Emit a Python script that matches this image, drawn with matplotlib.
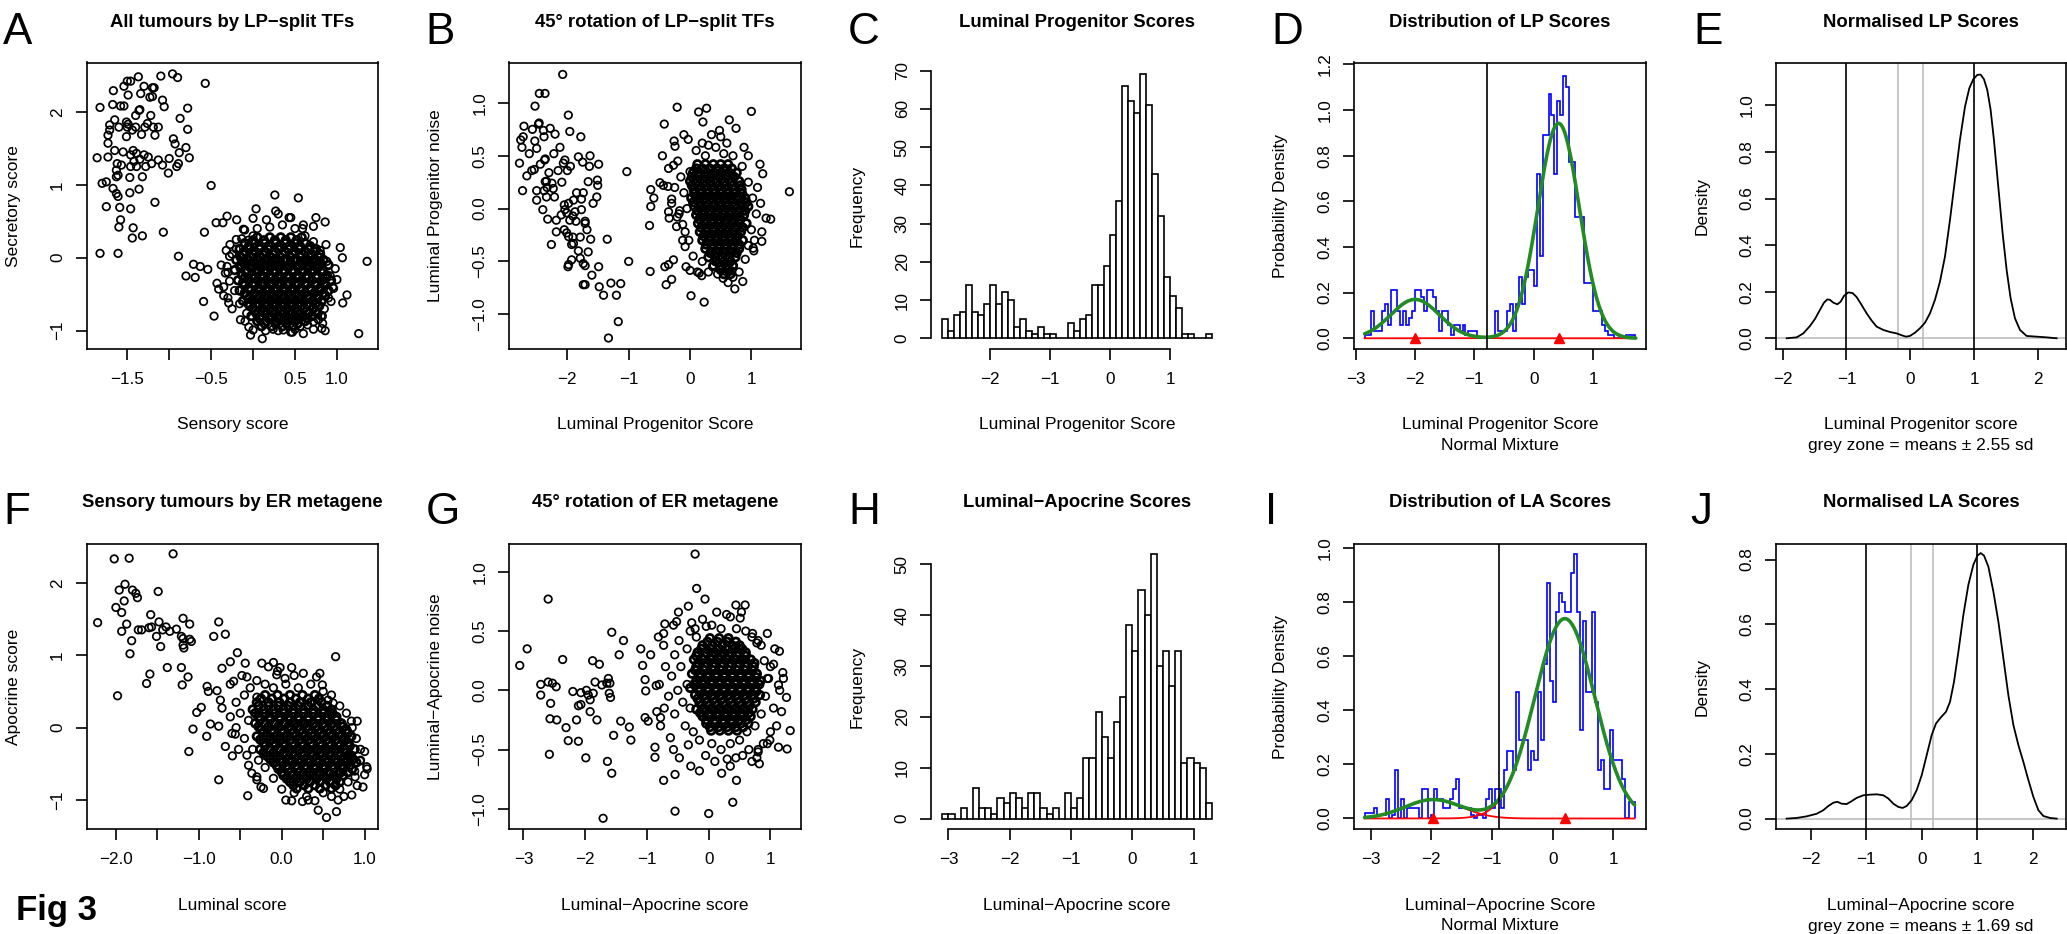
import numpy as np
import matplotlib
matplotlib.use("Agg")
import matplotlib.pyplot as plt

plt.rcParams['font.family'] = ['Liberation Sans', 'DejaVu Sans']
plt.rcParams['axes.unicode_minus'] = True

W, H = 2067, 934

# ---------------- DATA ----------------
# Panel A: Sensory score (x) vs Secretory score (y)
A_points = [
(-1.368,2.48),(-1.50,2.42),(-1.46,2.42),(-1.54,2.35),(-1.49,2.23),(-1.30,2.35),(-1.20,2.33),(-1.18,2.33),(-1.34,2.25),(-1.23,2.20),
(-1.20,2.21),(-1.10,2.49),(-0.96,2.52),(-0.90,2.47),(-1.08,2.16),(-1.06,2.07),(-0.57,2.39),(-0.78,2.05),(-1.825,2.06),(-1.666,2.29),
(-1.674,2.10),(-1.58,2.08),(-1.54,2.08),(-1.36,2.02),(-1.40,1.95),(-1.35,2.03),(-1.22,1.95),(-0.87,1.91),(-0.78,1.76),(-1.65,1.89),
(-1.71,1.82),(-1.73,1.68),(-1.71,1.75),(-1.60,1.79),(-1.51,1.86),(-1.49,1.83),(-1.50,1.79),(-1.40,1.79),(-1.33,1.69),(-1.29,1.79),
(-1.19,1.79),(-1.13,1.79),(-1.51,1.66),(-1.17,1.68),(-0.95,1.63),(-0.93,1.56),(-0.80,1.51),(-0.88,1.44),(-0.76,1.37),(-1.73,1.57),
(-1.65,1.47),(-1.86,1.37),(-1.73,1.38),(-1.43,1.47),(-1.46,1.41),(-1.39,1.43),(-1.30,1.41),(-1.35,1.35),(-1.46,1.25),(-1.39,1.25),
(-1.28,1.25),(-1.62,1.29),(-1.63,1.20),(-1.57,1.27),(-1.61,1.13),(-1.63,1.11),(-1.21,1.29),(-1.13,1.34),(-1.08,1.27),(-1.00,1.36),
(-1.01,1.16),(-0.91,1.25),(-0.89,1.29),(-1.47,1.10),(-1.32,1.11),(-1.80,1.02),(-1.75,1.04),(-1.67,0.95),(-1.63,0.88),(-1.61,0.84),
(-1.47,0.89),(-1.36,0.94),(-1.75,0.70),(-1.59,0.69),(-1.46,0.67),(-1.17,0.76),(-1.58,0.52),(-1.60,0.42),(-1.43,0.41),(-1.44,0.27),
(-1.32,0.30),(-1.07,0.35),(-1.825,0.06),(-1.61,0.06),(-0.50,0.99),(-1.25,1.38),(-1.42,1.32),(-1.55,1.45),(-1.44,1.75),(-1.26,1.84),
(-0.89,0.02),(-0.71,-0.09),(-0.80,-0.25),(-0.69,-0.27),(-0.63,-0.12),(-0.54,-0.16),(-0.58,0.35),(-0.59,-0.60),(-0.465,-0.80),(-0.44,0.48),
(-0.31,0.57),(-0.195,0.52),(-0.36,0.48),(-0.115,0.39),(-0.43,-0.35),(-0.41,-0.43),(-0.35,-0.52),(-0.29,-0.62),(-0.33,-0.21),(-0.31,-0.12),
(-0.28,0.02),(-0.275,0.18),(0.036,0.67),(0.26,0.86),(0.54,0.82),(0.0,0.54),(0.16,0.52),(0.27,0.64),(0.43,0.55),(0.75,0.55),
(0.86,0.49),(0.72,0.43),(0.59,0.40),(0.87,0.18),(1.04,0.14),(1.065,0.0),(1.36,-0.05),(0.96,-0.42),(1.12,-0.51),(1.07,-0.62),
(0.93,-0.60),(1.26,-1.04),(0.86,-1.00),(0.82,-0.97),(0.60,-1.04),(0.45,-1.02),(0.47,-1.02),(0.24,-0.98),(0.11,-1.11),(-0.03,-1.06),
(0.0,-0.99),(-0.095,-0.87),(-0.16,-0.63),(-0.076,-0.76),(0.72,-0.88),(0.56,-0.94),(0.36,-0.99),(-0.135,0.26),(-0.056,0.24),(0.0,0.10),
(-0.3,-0.2),(-0.25,0.05),(-0.2,0.25),(-0.1,0.38),(0.05,0.4),(0.2,0.42),(0.35,0.45),(0.5,0.4),(0.62,0.3),(0.72,0.22),
(0.8,0.1),(0.88,-0.05),(0.92,-0.25),(0.95,-0.4),(0.9,-0.55),(0.85,-0.7),(0.78,-0.85),(0.65,-0.92),(0.5,-0.98),(0.3,-1.0),
(0.15,-1.0),(-0.05,-0.95),(-0.15,-0.85),(-0.25,-0.7),(-0.3,-0.55),(-0.35,-0.4),(-0.22,-0.45),(-0.28,-0.32),(0.0,0.3),(0.45,0.55),
(0.3,0.6),(0.6,0.45),(-0.32,0.1),(-0.38,-0.1),(0.98,-0.15),(1.0,-0.3),(0.83,-0.9),(0.72,-0.98),(-0.2,0.12),
]
A_core_rows = [
(0.28, [0.05, 0.2, 0.33, 0.45, 0.58]),
(0.24, [0.0, 0.13, 0.26, 0.39, 0.52]),
(0.20, [-0.1, 0.02, 0.14, 0.27, 0.38, 0.5, 0.62]),
(0.16, [-0.05, 0.08, 0.2, 0.32, 0.44, 0.56, 0.68]),
(0.12, [-0.16, -0.04, 0.08, 0.18, 0.3, 0.42, 0.55, 0.66, 0.75]),
(0.085, [-0.1, 0.02, 0.14, 0.26, 0.38, 0.5, 0.62, 0.74]),
(0.05, [-0.12, 0.0, 0.12, 0.24, 0.35, 0.47, 0.58, 0.7, 0.8]),
(0.01, [-0.15, -0.03, 0.09, 0.21, 0.32, 0.44, 0.56, 0.67, 0.78]),
(-0.03, [-0.2, -0.07, 0.05, 0.16, 0.27, 0.38, 0.5, 0.62, 0.73, 0.84]),
(-0.065, [-0.12, 0.0, 0.11, 0.22, 0.33, 0.45, 0.57, 0.68, 0.8]),
(-0.10, [-0.15, -0.02, 0.1, 0.21, 0.32, 0.43, 0.55, 0.66, 0.78, 0.9]),
(-0.135, [-0.15, -0.03, 0.09, 0.2, 0.31, 0.42, 0.54, 0.66, 0.77]),
(-0.17, [-0.22, -0.08, 0.04, 0.15, 0.26, 0.37, 0.48, 0.6, 0.72, 0.83]),
(-0.205, [-0.08, 0.05, 0.16, 0.27, 0.37, 0.48, 0.59, 0.7, 0.82]),
(-0.24, [-0.13, 0.0, 0.1, 0.2, 0.31, 0.42, 0.53, 0.64, 0.76, 0.88]),
(-0.275, [-0.1, 0.02, 0.12, 0.22, 0.32, 0.42, 0.53, 0.64, 0.76, 0.87]),
(-0.31, [-0.18, -0.05, 0.06, 0.16, 0.26, 0.36, 0.47, 0.58, 0.7, 0.82, 0.93]),
(-0.345, [-0.12, 0.0, 0.11, 0.21, 0.31, 0.41, 0.52, 0.63, 0.74, 0.85]),
(-0.38, [-0.1, 0.02, 0.12, 0.22, 0.32, 0.42, 0.52, 0.63, 0.75, 0.86]),
(-0.415, [-0.05, 0.07, 0.17, 0.27, 0.37, 0.47, 0.57, 0.68, 0.8]),
(-0.45, [-0.16, -0.03, 0.08, 0.18, 0.28, 0.38, 0.48, 0.58, 0.69, 0.8, 0.9]),
(-0.485, [-0.1, 0.02, 0.12, 0.22, 0.32, 0.42, 0.52, 0.62, 0.73, 0.84]),
(-0.52, [-0.08, 0.04, 0.14, 0.24, 0.34, 0.44, 0.54, 0.65, 0.76, 0.86]),
(-0.555, [-0.05, 0.06, 0.16, 0.26, 0.36, 0.46, 0.56, 0.66, 0.77]),
(-0.59, [-0.12, 0.0, 0.1, 0.2, 0.3, 0.4, 0.5, 0.6, 0.71, 0.82]),
(-0.625, [-0.06, 0.05, 0.15, 0.25, 0.35, 0.45, 0.55, 0.65, 0.75]),
(-0.66, [-0.04, 0.07, 0.17, 0.27, 0.37, 0.47, 0.57, 0.68, 0.79]),
(-0.695, [0.0, 0.11, 0.21, 0.31, 0.41, 0.51, 0.61, 0.72]),
(-0.73, [0.02, 0.13, 0.23, 0.33, 0.43, 0.53, 0.64, 0.75]),
(-0.765, [0.04, 0.15, 0.25, 0.35, 0.45, 0.55, 0.66, 0.77]),
(-0.80, [-0.02, 0.09, 0.2, 0.3, 0.4, 0.5, 0.6, 0.7, 0.82]),
(-0.835, [0.08, 0.19, 0.3, 0.42, 0.54, 0.65]),
(-0.87, [0.05, 0.16, 0.27, 0.38, 0.5, 0.62]),
(-0.905, [0.14, 0.27, 0.4, 0.53]),
(-0.94, [0.1, 0.22, 0.35, 0.48]),
]

# Panel B: Luminal Progenitor Score (x) vs noise (y)
B_points = [
(-2.076,1.27),(-2.457,1.09),(-2.364,1.09),(-2.527,0.97),(-1.984,0.885),(-2.707,0.78),(-2.57,0.75),(-2.47,0.80),(-2.46,0.81),(-2.28,0.76),
(-2.20,0.705),(-2.39,0.74),(-2.38,0.68),(-1.96,0.73),(-1.78,0.68),(-2.76,0.65),(-2.72,0.68),(-2.74,0.58),(-2.53,0.64),(-2.50,0.57),
(-2.62,0.52),(-2.78,0.43),(-2.66,0.31),(-2.58,0.36),(-2.54,0.37),(-2.36,0.47),(-2.37,0.46),(-2.22,0.52),(-2.065,0.43),(-2.04,0.46),
(-2.15,0.36),(-2.0,0.36),(-2.09,0.25),(-1.82,0.49),(-1.75,0.44),(-1.63,0.50),(-1.64,0.40),(-1.49,0.42),(-1.66,0.255),(-1.51,0.27),
(-1.505,0.22),(-1.52,0.11),(-1.74,0.15),(-1.77,0.09),(-2.73,0.17),(-2.50,0.17),(-2.36,0.255),(-2.34,0.26),(-2.33,0.20),(-2.38,0.17),
(-2.34,0.11),(-2.50,0.08),(-2.40,-0.01),(-2.21,0.11),(-2.25,0.24),(-2.23,0.19),(-2.32,-0.10),(-2.18,-0.11),(-2.26,-0.34),(-2.18,-0.22),
(-2.05,0.035),(-2.04,-0.01),(-2.01,-0.04),(-1.98,0.05),(-1.90,0.08),(-1.96,-0.11),(-1.91,-0.07),(-1.875,-0.03),(-1.86,-0.12),(-1.71,-0.12),
(-1.71,-0.14),(-1.77,-0.01),(-2.05,-0.20),(-2.01,-0.23),(-1.98,-0.265),(-1.91,-0.27),(-1.93,-0.34),(-1.90,-0.33),(-1.79,-0.27),(-1.62,-0.29),
(-1.66,-0.41),(-1.35,-0.29),(-1.98,-0.53),(-1.99,-0.55),(-1.93,-0.485),(-1.79,-0.47),(-1.74,-0.52),(-1.71,-0.54),(-1.60,-0.63),(-1.49,-0.55),
(-1.74,-0.72),(-1.71,-0.72),(-1.48,-0.74),(-1.41,-0.82),(-1.29,-0.705),(-1.13,-0.71),(-1.20,-0.82),(-1.17,-1.07),(-1.33,-1.225),(-1.03,0.35),
(-1.0,-0.50),(-2.44,0.42),(-2.30,0.34),(-2.12,0.58),(-1.95,0.40),(-1.85,0.15),(-2.10,-0.06),(-1.82,-0.40),(-1.58,0.05),(-1.68,-0.20),
(-0.64,0.18),(-0.64,0.02),(-0.66,-0.16),(-0.65,-0.595),(-0.59,0.10),(-0.49,0.245),(-0.435,0.22),(-0.36,0.21),(-0.42,0.80),(-0.45,0.50),
(-0.26,0.64),(-0.245,0.59),(-0.21,0.96),(-0.35,0.38),(-0.27,0.41),(-0.30,0.09),(-0.35,-0.03),(-0.34,-0.09),(-0.22,-0.17),(-0.21,-0.08),
(-0.17,-0.02),(-0.41,-0.55),(-0.35,-0.53),(-0.27,-0.485),(-0.39,-0.72),(-0.30,-0.67),(-0.12,-0.30),(-0.08,-0.36),(-0.065,-0.55),(0.0,-0.585),
(0.016,-0.825),(0.23,-0.885),(0.14,0.915),(0.27,0.95),(0.21,0.82),(-0.10,0.70),(-0.03,0.655),(0.48,0.74),(0.64,0.84),(0.75,0.76),
(1.0,0.92),(1.14,0.42),(1.185,0.33),(1.62,0.16),(1.24,-0.09),(1.315,-0.10),(1.17,-0.22),(1.17,-0.31),(1.03,-0.375),(1.04,-0.40),
(0.86,-0.69),(0.73,-0.76),(0.54,-0.66),(0.68,-0.59),(0.37,-0.55),(0.46,-0.51),(0.15,-0.61),(0.19,-0.635),
(-0.15,0.3),(-0.1,0.15),(-0.05,0.0),(-0.12,-0.15),(-0.02,-0.3),(0.05,-0.45),(0.1,0.55),(0.2,0.62),(0.3,0.6),(0.42,0.58),
(0.55,0.52),(0.7,0.5),(0.85,0.4),(0.95,0.25),(1.02,0.1),(1.08,-0.05),(1.0,-0.2),(0.95,-0.35),(0.9,-0.48),(0.2,-0.5),
(0.12,-0.6),(0.3,-0.6),(0.45,-0.62),(0.8,-0.6),(-0.2,0.45),(-0.25,0.2),(-0.3,0.05),(-0.18,-0.05),(-0.08,-0.22),(0.0,0.35),
(1.1,0.2),(1.15,0.05),(1.05,-0.3),(0.62,-0.7),(0.7,-0.65),(0.35,0.7),(0.5,0.68),(0.25,0.5),(0.6,0.62),(0.95,0.5),(0.88,0.58),
]
B_core_rows = [
(0.42, [0.12, 0.25, 0.38, 0.5, 0.62]),
(0.38, [0.1, 0.2, 0.32, 0.44, 0.56, 0.68]),
(0.34, [0.05, 0.16, 0.28, 0.4, 0.52, 0.64, 0.76]),
(0.30, [0.03, 0.14, 0.25, 0.36, 0.48, 0.6, 0.72]),
(0.26, [0.0, 0.11, 0.22, 0.33, 0.44, 0.56, 0.68, 0.8]),
(0.22, [0.03, 0.14, 0.25, 0.36, 0.47, 0.58, 0.7, 0.82]),
(0.18, [0.06, 0.17, 0.28, 0.39, 0.5, 0.61, 0.72, 0.84]),
(0.14, [0.07, 0.18, 0.29, 0.4, 0.51, 0.62, 0.73, 0.85]),
(0.10, [0.02, 0.12, 0.23, 0.34, 0.45, 0.56, 0.67, 0.78, 0.9]),
(0.06, [0.05, 0.15, 0.26, 0.37, 0.48, 0.59, 0.7, 0.82, 0.92]),
(0.02, [0.07, 0.18, 0.29, 0.4, 0.51, 0.62, 0.73, 0.85, 0.95]),
(-0.02, [0.12, 0.23, 0.34, 0.45, 0.56, 0.67, 0.79, 0.9]),
(-0.06, [0.1, 0.21, 0.32, 0.43, 0.54, 0.65, 0.76, 0.88]),
(-0.10, [0.15, 0.26, 0.37, 0.48, 0.6, 0.71, 0.82]),
(-0.14, [0.13, 0.24, 0.35, 0.46, 0.57, 0.68, 0.8, 0.92]),
(-0.18, [0.18, 0.29, 0.4, 0.52, 0.63, 0.74, 0.86]),
(-0.22, [0.16, 0.27, 0.38, 0.49, 0.6, 0.71, 0.83]),
(-0.26, [0.22, 0.33, 0.44, 0.55, 0.66, 0.78]),
(-0.30, [0.2, 0.31, 0.42, 0.53, 0.64, 0.75, 0.86]),
(-0.34, [0.26, 0.37, 0.48, 0.59, 0.7, 0.8]),
(-0.38, [0.25, 0.36, 0.47, 0.58, 0.69, 0.8]),
(-0.42, [0.33, 0.44, 0.55, 0.66, 0.76]),
(-0.46, [0.3, 0.41, 0.52, 0.63, 0.74]),
(-0.50, [0.42, 0.55, 0.66]),
(-0.54, [0.38, 0.5, 0.6, 0.7]),
(-0.58, [0.5, 0.62]),
(-0.62, [0.55, 0.66]),
]

# Panel C: histogram of Luminal Progenitor Score (bins of 0.1 from -2.8)
C_start, C_width = -2.8, 0.1
C_counts = [5,2,6,7,14,7,6,9,14,9,12,10,3,5,2,1,3,1,1,0,0,4,2,5,6,14,14,19,27,36,
            66,62,59,69,61,43,32,16,11,8,1,1,0,0,1]

# Panel D: density histogram (bins of 0.05 from -2.85) and normal mixture
D_start, D_width = -2.85, 0.05
D_density = [0.015,0.015,0.12,0.03,0.03,0.03,0.12,0.15,0.06,0.21,0.21,0.12,0.06,0.12,0.06,0.09,0.12,0.21,0.21,0.18,
             0.12,0.21,0.21,0.18,0.12,0.03,0.12,0.12,0.06,0.015,0.06,0.06,0.03,0.06,0.015,0.03,0.03,0.03,
             0,0,0,0,0,0,
             0.12,0.03,0.03,0.03,0.12,0.15,0.03,0.15,0.27,0.15,0.27,0.30,0.30,0.23,0.72,0.36,0.89,0.89,1.07,0.98,
             0.72,1.04,0.98,1.15,1.10,0.77,0.77,0.53,0.53,0.53,0.24,0.24,0.24,0.12,0.12,0.12,0.06,0.03,0.015,0.015,
             0,0,0,0,0.015,0.015,0.015]
D_weights = [0.174, 0.826]
D_means = [-2.0, 0.42]
D_sds = [0.408, 0.35]
D_range = [-2.85, 1.72]
D_cut = -0.79

# Panel E: normalised LP score density
E_x = [-1.935,-1.779,-1.675,-1.570,-1.492,-1.414,-1.351,-1.299,-1.257,-1.205,-1.142,-1.090,-1.038,-0.970,-0.902,-0.840,
       -0.762,-0.683,-0.605,-0.527,-0.423,-0.318,-0.214,-0.136,-0.068,-0.005,0.073,0.151,0.230,0.308,0.386,0.464,0.543,
       0.621,0.699,0.777,0.856,0.923,0.986,1.049,1.101,1.153,1.205,1.257,1.309,1.377,1.445,1.508,1.570,1.638,1.716,1.821,
       1.977,2.134,2.290]
E_y = [0.000,0.004,0.021,0.053,0.083,0.122,0.153,0.167,0.165,0.153,0.146,0.157,0.182,0.197,0.194,0.177,
       0.143,0.107,0.076,0.050,0.036,0.027,0.021,0.013,0.007,0.010,0.024,0.043,0.067,0.107,0.165,0.243,0.351,
       0.508,0.680,0.852,0.994,1.073,1.112,1.131,1.132,1.112,1.066,0.981,0.852,0.651,0.451,0.293,0.172,0.086,0.036,0.010,
       0.007,0.004,0.000]
E_black = [-1.0, 1.0]
E_grey = [-0.2, 0.2]

# Panel F: Luminal score (x) vs Apocrine score (y)
F_points = [
(-2.02,2.33),(-1.84,2.34),(-1.31,2.40),(-1.89,1.98),(-1.96,1.90),(-1.80,1.90),(-1.76,1.855),(-1.74,1.795),(-1.49,1.88),(-1.90,1.75),
(-2.0,1.66),(-1.93,1.59),(-2.22,1.45),(-1.87,1.43),(-1.93,1.33),(-1.81,1.20),(-1.83,1.02),(-1.73,1.35),(-1.69,1.35),(-1.98,0.44),
(-1.58,1.56),(-1.57,1.39),(-1.60,1.38),(-1.51,1.26),(-1.48,1.46),(-1.46,1.12),(-1.435,1.35),(-1.395,1.39),(-1.35,1.33),(-1.27,1.36),
(-1.38,0.83),(-1.19,1.51),(-1.11,1.43),(-1.21,1.26),(-1.19,1.23),(-1.11,1.22),(-1.09,1.19),(-1.18,1.10),(-1.19,1.14),(-1.21,0.83),
(-1.13,0.70),(-1.20,0.59),(-1.59,0.74),(-1.63,0.61),(-0.76,1.46),(-0.82,1.26),(-0.68,1.29),(-1.12,-0.33),(-1.07,-0.02),(-1.025,0.21),
(-0.97,0.28),(-0.90,0.57),(-0.885,0.50),(-0.86,0.05),(-0.76,0.02),(-0.905,-0.12),(-0.76,-0.72),(-0.78,0.51),(-0.74,0.38),(-0.72,0.27),
(-0.68,-0.26),(-0.595,-0.39),(-0.56,-0.09),(-0.41,-0.94),(-0.58,0.64),(-0.44,0.89),(-0.535,1.035),(-0.72,0.82),(-0.62,0.91),(-0.42,0.70),
(-0.24,0.89),(-0.16,0.84),(-0.10,0.90),(-0.02,0.83),(0.12,0.83),(0.26,0.75),(-0.06,0.73),(0.04,0.68),(0.46,0.75),(0.49,0.59),
(0.65,0.98),(0.56,0.38),(0.62,0.34),(0.84,0.09),(0.91,0.09),(1.0,-0.33),(0.945,-0.46),(1.025,-0.54),(1.03,-0.57),(0.885,-0.68),
(0.91,-0.80),(0.845,-0.93),(0.66,-1.16),(0.54,-1.24),(0.44,-1.14),(0.32,-1.0),(0.40,-1.01),(0.12,-1.01),(-0.22,-0.84),(-0.36,-0.63),
(-0.42,-0.38),(-0.30,-0.72),(0.82,-0.24),(0.80,-0.38),(0.84,-0.38),
(-0.55,0.35),(-0.45,0.45),(-0.5,0.2),(-0.4,0.1),(-0.55,0.0),(-0.45,-0.15),(-0.35,-0.3),(-0.38,0.55),(-0.3,0.65),(-0.2,0.6),
(-0.1,0.55),(0.05,0.6),(0.2,0.55),(0.35,0.6),(0.5,0.5),(0.6,0.45),(0.7,0.3),(0.78,0.2),(0.85,0.0),(0.9,-0.15),
(0.95,-0.3),(0.88,-0.6),(0.8,-0.75),(0.7,-0.85),(0.6,-0.95),(0.5,-0.9),(0.3,-0.95),(0.15,-0.9),(0.0,-0.85),(-0.1,-0.7),
(-0.2,-0.55),(-0.28,-0.45),(0.05,-1.0),(0.25,-1.02),(0.65,-0.8),(0.75,-0.95),(0.68,-1.0),(0.72,-0.62),(0.95,-0.45),(0.8,-0.45),
(-0.62,0.15),(-0.6,-0.08),(-0.3,0.42),(0.42,0.7),(0.15,0.72),(-0.05,0.78),(-0.62,0.6),(-0.48,0.72),(-0.52,-0.3),(-0.4,-0.52),
(-0.3,-0.68),(-0.25,-0.82),(0.58,0.18),(0.72,0.05),(1.0,-0.65),(0.98,-0.82),
]
F_core_rows = [
(0.45, [-0.2, -0.05, 0.1, 0.25, 0.4]),
(0.40, [-0.25, -0.12, 0.03, 0.17, 0.32, 0.45]),
(0.35, [-0.3, -0.16, -0.03, 0.1, 0.22, 0.35, 0.48]),
(0.30, [-0.28, -0.16, -0.04, 0.08, 0.2, 0.32, 0.44, 0.55]),
(0.25, [-0.35, -0.22, -0.1, 0.02, 0.14, 0.26, 0.38, 0.5, 0.6]),
(0.20, [-0.32, -0.2, -0.08, 0.03, 0.14, 0.26, 0.38, 0.5, 0.61]),
(0.15, [-0.28, -0.15, -0.03, 0.08, 0.2, 0.32, 0.44, 0.55, 0.66]),
(0.105, [-0.26, -0.14, -0.02, 0.1, 0.21, 0.32, 0.44, 0.55, 0.66]),
(0.06, [-0.32, -0.2, -0.08, 0.04, 0.15, 0.26, 0.38, 0.5, 0.6, 0.72]),
(0.015, [-0.28, -0.16, -0.04, 0.08, 0.19, 0.3, 0.41, 0.52, 0.63, 0.74]),
(-0.03, [-0.25, -0.12, 0.0, 0.11, 0.22, 0.33, 0.44, 0.55, 0.66, 0.78]),
(-0.075, [-0.22, -0.1, 0.02, 0.14, 0.25, 0.36, 0.47, 0.58, 0.69, 0.8]),
(-0.12, [-0.3, -0.18, -0.06, 0.06, 0.17, 0.28, 0.39, 0.5, 0.61, 0.72, 0.84]),
(-0.165, [-0.26, -0.14, -0.02, 0.1, 0.21, 0.32, 0.43, 0.54, 0.65, 0.76]),
(-0.21, [-0.22, -0.1, 0.02, 0.13, 0.24, 0.35, 0.46, 0.57, 0.68, 0.8]),
(-0.255, [-0.2, -0.08, 0.04, 0.15, 0.26, 0.37, 0.48, 0.59, 0.7, 0.82]),
(-0.30, [-0.26, -0.14, -0.02, 0.09, 0.2, 0.31, 0.42, 0.53, 0.64, 0.75, 0.88]),
(-0.345, [-0.22, -0.1, 0.02, 0.13, 0.24, 0.35, 0.46, 0.57, 0.68, 0.78]),
(-0.39, [-0.18, -0.06, 0.05, 0.16, 0.27, 0.38, 0.49, 0.6, 0.71, 0.82]),
(-0.435, [-0.14, -0.02, 0.09, 0.2, 0.31, 0.42, 0.53, 0.64, 0.75, 0.86]),
(-0.48, [-0.1, 0.01, 0.12, 0.23, 0.34, 0.45, 0.56, 0.67, 0.78, 0.9]),
(-0.525, [-0.06, 0.06, 0.17, 0.28, 0.39, 0.5, 0.61, 0.72, 0.82]),
(-0.57, [-0.04, 0.08, 0.19, 0.3, 0.41, 0.52, 0.63, 0.74, 0.85]),
(-0.615, [0.0, 0.11, 0.22, 0.34, 0.46, 0.58, 0.7, 0.8]),
(-0.66, [0.02, 0.14, 0.26, 0.38, 0.5, 0.62, 0.74]),
(-0.705, [0.06, 0.18, 0.3, 0.42, 0.54, 0.66]),
(-0.75, [0.1, 0.22, 0.34, 0.46, 0.58, 0.7]),
(-0.795, [0.14, 0.27, 0.4, 0.53, 0.65]),
(-0.84, [0.18, 0.32, 0.46, 0.6]),
]

# Panel G: Luminal-Apocrine score (x) vs noise (y)
G_points = [
(-3.06,0.21),(-2.94,0.35),(-2.60,0.77),(-2.365,0.26),(-2.72,0.05),(-2.72,-0.04),(-2.60,0.07),(-2.53,0.06),(-2.47,0.03),(-2.56,-0.11),
(-2.57,-0.24),(-2.46,-0.25),(-2.58,-0.54),(-2.31,-0.315),(-2.275,-0.425),(-2.20,-0.01),(-2.14,-0.25),(-2.11,-0.13),(-2.07,-0.12),(-2.11,-0.43),
(-1.99,-0.57),(-2.07,-0.02),(-1.98,0.0),(-1.95,-0.04),(-1.92,-0.08),(-1.87,-0.025),(-1.92,-0.18),(-1.81,-0.25),(-1.88,0.25),(-1.77,0.22),
(-1.84,0.07),(-1.73,0.045),(-1.65,0.06),(-1.625,0.10),(-1.60,0.06),(-1.61,-0.025),(-1.59,-0.06),(-1.64,-0.60),(-1.57,-0.70),(-1.54,-0.38),
(-1.71,-1.08),(-1.57,0.49),(-1.45,0.30),(-1.38,0.42),(-1.425,-0.26),(-1.285,-0.31),(-1.26,-0.42),(-1.10,0.35),(-1.07,0.21),(-1.03,0.09),
(-1.02,-0.005),(-0.94,0.30),(-1.03,-0.23),(-0.98,-0.26),(-0.87,-0.48),(-0.87,-0.565),(-0.85,0.04),(-0.84,-0.18),(-0.78,-0.23),(-0.73,-0.76),
(-0.545,-0.71),(-0.545,-1.02),(-0.57,-0.50),(-0.475,-0.57),(-0.33,-0.46),(-0.29,-0.64),(-0.15,-0.68),(-0.22,1.15),(-0.195,0.86),(-0.06,0.77),
(-0.33,0.71),(-0.49,0.66),(-0.52,0.58),(-0.71,0.56),(-0.57,0.55),(-0.73,0.48),(-0.815,0.45),(-0.73,0.38),(-0.275,0.57),(-0.22,0.52),
(-0.04,0.54),(0.13,0.66),(0.29,0.64),(0.35,0.62),(0.44,0.72),(0.59,0.72),(0.53,0.66),(0.51,0.61),(0.95,0.48),(0.71,0.48),
(0.80,0.42),(0.78,0.40),(1.07,0.35),(1.145,0.33),(1.0,0.20),(0.97,0.10),(1.21,0.10),(1.13,0.045),(1.26,-0.06),(1.32,-0.34),
(1.27,-0.495),(1.13,-0.48),(0.99,-0.42),(0.885,-0.45),(0.80,-0.52),(0.82,-0.62),(0.70,-0.60),(0.78,-0.57),(0.39,-0.945),(0.45,-0.76),
(0.0,-1.04),(0.21,-0.70),(0.35,-0.64),(0.44,-0.57),
(-0.55,0.3),(-0.45,0.2),(-0.6,0.12),(-0.5,0.0),(-0.42,-0.1),(-0.55,-0.2),(-0.38,-0.3),(-0.48,0.42),(-0.35,0.35),(-0.3,0.5),
(-0.2,0.45),(-0.65,-0.05),(-0.7,0.2),(-0.72,-0.15),(-0.3,-0.15),(-0.35,0.05),(-0.25,-0.35),(-0.15,-0.42),(0.05,-0.45),(0.2,-0.5),
(0.35,-0.45),(0.5,-0.42),(0.62,-0.35),(0.75,-0.3),(0.85,-0.2),(0.92,-0.05),(0.95,0.1),(0.9,0.25),(0.85,0.38),(0.7,0.45),
(0.6,0.5),(0.45,0.52),(0.2,0.52),(0.05,0.55),(1.05,-0.15),(1.1,-0.3),(1.0,-0.35),(1.15,0.0),(1.05,0.22),(0.65,-0.5),
(0.55,-0.55),(0.1,-0.6),(-0.05,-0.55),(0.3,-0.58),(0.8,-0.5),(-0.8,0.05),(-0.78,-0.3),(1.18,-0.18),(1.2,0.15),(0.95,-0.45),
(-0.62,-0.4),(-0.1,0.6),
]
G_core_rows = [
(0.44, [0.02, 0.17, 0.32]),
(0.41, [-0.02, 0.14, 0.3, 0.44]),
(0.38, [-0.1, 0.06, 0.22, 0.38, 0.5]),
(0.35, [-0.12, 0.03, 0.17, 0.3, 0.42, 0.54]),
(0.32, [-0.18, -0.04, 0.1, 0.24, 0.36, 0.48, 0.6]),
(0.29, [-0.2, -0.07, 0.06, 0.2, 0.33, 0.46, 0.6]),
(0.26, [-0.24, -0.1, 0.03, 0.16, 0.29, 0.42, 0.55, 0.68]),
(0.23, [-0.17, -0.03, 0.1, 0.23, 0.36, 0.49, 0.62, 0.74]),
(0.20, [-0.2, -0.06, 0.08, 0.21, 0.34, 0.47, 0.6, 0.73]),
(0.17, [-0.22, -0.08, 0.06, 0.19, 0.32, 0.45, 0.58, 0.71]),
(0.14, [-0.27, -0.13, 0.0, 0.13, 0.26, 0.39, 0.52, 0.65, 0.78]),
(0.11, [-0.15, -0.02, 0.12, 0.25, 0.38, 0.51, 0.64, 0.77]),
(0.08, [-0.2, -0.07, 0.06, 0.19, 0.32, 0.45, 0.58, 0.71, 0.84]),
(0.05, [-0.24, -0.1, 0.04, 0.17, 0.3, 0.43, 0.56, 0.69, 0.82]),
(0.02, [-0.3, -0.16, -0.02, 0.11, 0.24, 0.37, 0.5, 0.63, 0.76]),
(-0.01, [-0.15, -0.01, 0.12, 0.25, 0.38, 0.51, 0.64, 0.77]),
(-0.04, [-0.22, -0.08, 0.05, 0.18, 0.31, 0.44, 0.57, 0.7, 0.83]),
(-0.07, [-0.18, -0.05, 0.08, 0.21, 0.34, 0.47, 0.6, 0.73]),
(-0.10, [-0.15, -0.02, 0.11, 0.24, 0.37, 0.5, 0.63, 0.76]),
(-0.13, [-0.12, 0.01, 0.14, 0.27, 0.4, 0.53, 0.66]),
(-0.16, [-0.2, -0.07, 0.06, 0.19, 0.32, 0.45, 0.58, 0.71]),
(-0.19, [-0.14, 0.0, 0.13, 0.26, 0.39, 0.52, 0.65]),
(-0.22, [-0.1, 0.03, 0.16, 0.29, 0.42, 0.55, 0.68]),
(-0.25, [-0.04, 0.1, 0.23, 0.36, 0.49, 0.61]),
(-0.28, [-0.04, 0.1, 0.24, 0.38, 0.52, 0.64]),
(-0.31, [0.02, 0.16, 0.3, 0.44, 0.56]),
(-0.34, [0.04, 0.18, 0.32, 0.46]),
]

# Panel H: histogram of Luminal-Apocrine score (bins of 0.1 from -3.1)
H_start, H_width = -3.1, 0.1
H_counts = [1,1,0,2,0,6,2,2,1,4,3,5,4,2,5,5,2,1,2,0,5,2,4,12,12,21,16,12,19,24,
            38,33,45,40,52,30,33,26,33,11,12,11,10,3]

# Panel I: density histogram (bins of 0.05 from -3.10) and normal mixture
I_start, I_width = -3.10, 0.05
I_density = [0.02,0.02,0.02,0.037,0.012,0.012,0.012,0.074,0.0,0.012,0.18,0.0,0.074,0.0,0.037,0.037,0.037,0.037,0.0,
             0.11,0.11,0.0,0.012,0.11,0.074,0.074,0.037,0.037,0.074,0.11,0.145,0.037,0.037,0.037,0.037,0.012,0.0,0.012,0.012,
             0.0,0.074,0.11,0.037,0.11,0.11,0.037,0.18,0.25,0.25,0.18,0.47,0.29,0.29,0.29,0.18,0.25,0.216,0.47,0.29,
             0.57,0.87,0.51,0.43,0.765,0.833,0.80,0.765,0.765,0.907,0.98,0.765,0.327,0.73,0.47,0.47,0.765,0.43,0.18,0.216,
             0.11,0.11,0.327,0.216,0.216,0.216,0.148,0.0,0.06,0.06]
I_weights = [0.082, 0.918]
I_means = [-1.97, 0.20]
I_sds = [0.467, 0.495]
I_range = [-3.1, 1.35]
I_cut = -0.88

# Panel J: normalised LA score density
J_x = [-2.430,-2.250,-2.070,-1.890,-1.770,-1.680,-1.590,-1.518,-1.440,-1.350,-1.260,-1.170,-1.050,-0.930,-0.810,-0.690,
       -0.600,-0.510,-0.420,-0.342,-0.270,-0.180,-0.090,0.000,0.090,0.180,0.258,0.342,0.438,0.510,0.582,0.660,0.750,
       0.840,0.930,1.002,1.062,1.122,1.200,1.290,1.380,1.470,1.560,1.650,1.740,1.830,1.920,2.010,2.100,2.190,2.310,2.430]
J_y = [0.000,0.002,0.007,0.015,0.026,0.039,0.049,0.052,0.046,0.045,0.054,0.064,0.072,0.074,0.075,0.072,
       0.062,0.046,0.036,0.033,0.039,0.057,0.088,0.134,0.196,0.258,0.294,0.312,0.330,0.361,0.423,0.515,0.629,
       0.722,0.784,0.812,0.820,0.812,0.778,0.701,0.608,0.495,0.381,0.289,0.227,0.175,0.119,0.067,0.026,0.008,0.002,0.000]
J_black = [-1.0, 1.0]
J_grey = [-0.2, 0.2]

# ---------------- FIGURE ----------------
fig = plt.figure(figsize=(W / 100, H / 100), dpi=100)
fig.patch.set_facecolor('white')

COL_L = [86.7, 509.0, 931.3, 1354.0, 1776.0]
COL_R = [378.4, 800.7, 1223.0, 1645.7, 2066.0]
ROW_T = [62.5, 544.0]
ROW_B = [349.0, 829.3]

LW = 1.2
TICK_FS = 12.3
LABEL_FS = 12.5
TITLE_FS = 13.3
BLUE, GREEN, RED, GREY = '#0000FF', '#228B22', '#FF0000', '#BEBEBE'


def make_ax(c, r):
    l, rr, t, b = COL_L[c], COL_R[c], ROW_T[r], ROW_B[r]
    return fig.add_axes([l / W, 1 - b / H, (rr - l) / W, (b - t) / H])


def ftext(x, y, s, **kw):
    fig.text(x / W, 1 - y / H, s, **kw)


def style(ax, xlim, ylim, xticks, xlabels, yticks, ylabels, box=True):
    ax.set_xlim(*xlim)
    ax.set_ylim(*ylim)
    ax.set_xticks(xticks)
    ax.set_xticklabels(xlabels, fontsize=TICK_FS)
    ax.set_yticks(yticks)
    ax.set_yticklabels(ylabels, fontsize=TICK_FS, rotation=90, va='center', ha='right')
    ax.tick_params(direction='out', length=8, width=LW, color='black')
    ax.tick_params(axis='x', pad=8.5)
    ax.tick_params(axis='y', pad=7.5)
    for s in ax.spines.values():
        s.set_linewidth(LW)
    if not box:
        ax.spines['top'].set_visible(False)
        ax.spines['right'].set_visible(False)
        ax.spines['left'].set_bounds(yticks[0], yticks[-1])
        ax.spines['bottom'].set_bounds(xticks[0], xticks[-1])


def fmt(v, d):
    s = f"{v:.{d}f}"
    return s.replace('-', '\u2212')


def labels(c, r, title, xlab, ylab, xlab2=None):
    cx = (COL_L[c] + COL_R[c]) / 2
    cy = (ROW_T[r] + ROW_B[r]) / 2
    tb = [27.3, 507.3][r]
    xb = [429.5, 910.0][r]
    ylx = [13.7, 435.8, 857.5, 1280.5, 1702.5][c]
    ftext(cx, tb, title, ha='center', va='baseline', fontsize=TITLE_FS, fontweight='bold')
    ftext(cx, xb, xlab, ha='center', va='baseline', fontsize=LABEL_FS)
    if xlab2:
        ftext(cx, xb + 20.5, xlab2, ha='center', va='baseline', fontsize=LABEL_FS)
    ftext(ylx, cy, ylab, ha='center', va='center', rotation=90, fontsize=LABEL_FS)


def scatter_panel(ax, pts, rows):
    # outlying points, drawn individually
    ax.scatter([p[0] for p in pts], [p[1] for p in pts], s=29, facecolors='none',
               edgecolors='black', linewidths=1.25, zorder=3)
    # dense core, where overlapping circles merge into a solid mass
    cx = [x for y, xr in rows for x in xr]
    cy = [y for y, xr in rows for x in xr]
    ax.scatter(cx, cy, s=29, facecolors='none', edgecolors='black', linewidths=2.0, zorder=3)


def hist_panel(ax, start, width, counts):
    lefts = [round(start + i * width, 3) for i in range(len(counts))]
    ax.bar(lefts, counts, width=width, align='edge', facecolor='white', edgecolor='black', linewidth=LW)


def npdf(x, m, s):
    return np.exp(-0.5 * ((x - m) / s) ** 2) / (s * np.sqrt(2 * np.pi))


def mixture_panel(ax, start, width, dens, weights, means, sds, rng, cut):
    edges = [round(start + i * width, 3) for i in range(len(dens) + 1)]
    ax.stairs(dens, edges, color=BLUE, linewidth=LW, baseline=0, zorder=2)
    xg = np.linspace(rng[0], rng[1], 500)
    total = np.zeros_like(xg)
    for w, m, s in zip(weights, means, sds):
        comp = w * npdf(xg, m, s)
        total += comp
        ax.plot(xg, comp, color=RED, linewidth=1.3, zorder=3)
    ax.plot(xg, total, color=GREEN, linewidth=2.6, zorder=4, solid_capstyle='round')
    ax.axvline(cut, color='black', linewidth=LW, zorder=5)
    ax.plot(means, [0, 0], linestyle='none', marker='^', color=RED, markersize=6.5, zorder=6)


def density_panel(ax, x, y, black, grey):
    for g in grey:
        ax.axvline(g, color=GREY, linewidth=LW, zorder=1)
    ax.axhline(0, color=GREY, linewidth=LW, zorder=1)
    for b in black:
        ax.axvline(b, color='black', linewidth=LW, zorder=2)
    ax.plot(x, y, color='black', linewidth=1.3, zorder=3)


# ---- A ----
ax = make_ax(0, 0)
scatter_panel(ax, A_points, A_core_rows)
style(ax, (-1.984, 1.495), (-1.251, 2.676),
      [-1.5, -1.0, -0.5, 0.0, 0.5, 1.0], [fmt(-1.5, 1), '', fmt(-0.5, 1), '', '0.5', '1.0'],
      [-1, 0, 1, 2], [fmt(v, 0) for v in [-1, 0, 1, 2]])
labels(0, 0, 'All tumours by LP\u2212split TFs', 'Sensory score', 'Secretory score')

# ---- B ----
ax = make_ax(1, 0)
scatter_panel(ax, B_points, B_core_rows)
style(ax, (-2.951, 1.804), (-1.329, 1.383),
      [-2, -1, 0, 1], [fmt(v, 0) for v in [-2, -1, 0, 1]],
      [-1.0, -0.5, 0.0, 0.5, 1.0], [fmt(v, 1) for v in [-1.0, -0.5, 0.0, 0.5, 1.0]])
labels(1, 0, '45\u00b0 rotation of LP\u2212split TFs', 'Luminal Progenitor Score', 'Luminal Progenitor noise')

# ---- C ----
ax = make_ax(2, 0)
hist_panel(ax, C_start, C_width, C_counts)
style(ax, (-2.978, 1.883), (-2.8, 72.1),
      [-2, -1, 0, 1], [fmt(v, 0) for v in [-2, -1, 0, 1]],
      list(range(0, 71, 10)), [str(v) for v in range(0, 71, 10)], box=False)
labels(2, 0, 'Luminal Progenitor Scores', 'Luminal Progenitor Score', 'Frequency')

# ---- D ----
ax = make_ax(3, 0)
mixture_panel(ax, D_start, D_width, D_density, D_weights, D_means, D_sds, D_range, D_cut)
style(ax, (-3.029, 1.888), (-0.047, 1.208),
      [-3, -2, -1, 0, 1], [fmt(v, 0) for v in [-3, -2, -1, 0, 1]],
      [0.0, 0.2, 0.4, 0.6, 0.8, 1.0, 1.2], [fmt(v, 1) for v in [0.0, 0.2, 0.4, 0.6, 0.8, 1.0, 1.2]])
labels(3, 0, 'Distribution of LP Scores', 'Luminal Progenitor Score', 'Probability Density', 'Normal Mixture')

# ---- E ----
ax = make_ax(4, 0)
density_panel(ax, E_x, E_y, E_black, E_grey)
style(ax, (-2.102, 2.437), (-0.046, 1.184),
      [-2, -1, 0, 1, 2], [fmt(v, 0) for v in [-2, -1, 0, 1, 2]],
      [0.0, 0.2, 0.4, 0.6, 0.8, 1.0], [fmt(v, 1) for v in [0.0, 0.2, 0.4, 0.6, 0.8, 1.0]])
labels(4, 0, 'Normalised LP Scores', 'Luminal Progenitor score', 'Density', 'grey zone = means \u00b1 2.55 sd')

# ---- F ----
ax = make_ax(0, 1)
scatter_panel(ax, F_points, F_core_rows)
style(ax, (-2.352, 1.166), (-1.404, 2.536),
      [-2.0, -1.5, -1.0, -0.5, 0.0, 0.5, 1.0], [fmt(-2.0, 1), '', fmt(-1.0, 1), '', '0.0', '', '1.0'],
      [-1, 0, 1, 2], [fmt(v, 0) for v in [-1, 0, 1, 2]])
labels(0, 1, 'Sensory tumours by ER metagene', 'Luminal score', 'Apocrine score')

# ---- G ----
ax = make_ax(1, 1)
scatter_panel(ax, G_points, G_core_rows)
style(ax, (-3.234, 1.49), (-1.173, 1.235),
      [-3, -2, -1, 0, 1], [fmt(v, 0) for v in [-3, -2, -1, 0, 1]],
      [-1.0, -0.5, 0.0, 0.5, 1.0], [fmt(v, 1) for v in [-1.0, -0.5, 0.0, 0.5, 1.0]])
labels(1, 1, '45\u00b0 rotation of ER metagene', 'Luminal\u2212Apocrine score', 'Luminal\u2212Apocrine noise')

# ---- H ----
ax = make_ax(2, 1)
hist_panel(ax, H_start, H_width, H_counts)
style(ax, (-3.28, 1.48), (-2.1, 54.0),
      [-3, -2, -1, 0, 1], [fmt(v, 0) for v in [-3, -2, -1, 0, 1]],
      list(range(0, 51, 10)), [str(v) for v in range(0, 51, 10)], box=False)
labels(2, 1, 'Luminal\u2212Apocrine Scores', 'Luminal\u2212Apocrine score', 'Frequency')

# ---- I ----
ax = make_ax(3, 1)
mixture_panel(ax, I_start, I_width, I_density, I_weights, I_means, I_sds, I_range, I_cut)
style(ax, (-3.275, 1.533), (-0.040, 1.016),
      [-3, -2, -1, 0, 1], [fmt(v, 0) for v in [-3, -2, -1, 0, 1]],
      [0.0, 0.2, 0.4, 0.6, 0.8, 1.0], [fmt(v, 1) for v in [0.0, 0.2, 0.4, 0.6, 0.8, 1.0]])
labels(3, 1, 'Distribution of LA Scores', 'Luminal\u2212Apocrine Score', 'Probability Density', 'Normal Mixture')

# ---- J ----
ax = make_ax(4, 1)
density_panel(ax, J_x, J_y, J_black, J_grey)
style(ax, (-2.622, 2.597), (-0.033, 0.848),
      [-2, -1, 0, 1, 2], [fmt(v, 0) for v in [-2, -1, 0, 1, 2]],
      [0.0, 0.2, 0.4, 0.6, 0.8], [fmt(v, 1) for v in [0.0, 0.2, 0.4, 0.6, 0.8]])
labels(4, 1, 'Normalised LA Scores', 'Luminal\u2212Apocrine score', 'Density', 'grey zone = means \u00b1 1.69 sd')

# ---- panel letters ----
LETTERS = [('A', 3, 44.3), ('B', 425, 44.5), ('C', 848, 44.5), ('D', 1271, 44.5), ('E', 1693, 44.5),
           ('F', 3, 524.3), ('G', 426, 524.5), ('H', 848, 524.5), ('I', 1265, 524.5), ('J', 1690, 524.5)]
for s, x, y in LETTERS:
    ftext(x, y, s, ha='left', va='baseline', fontsize=31.7)
ftext(16.5, 920, 'Fig 3', ha='left', va='baseline', fontsize=25, fontweight='bold')

fig.savefig('out.png', dpi=100, facecolor='white')
